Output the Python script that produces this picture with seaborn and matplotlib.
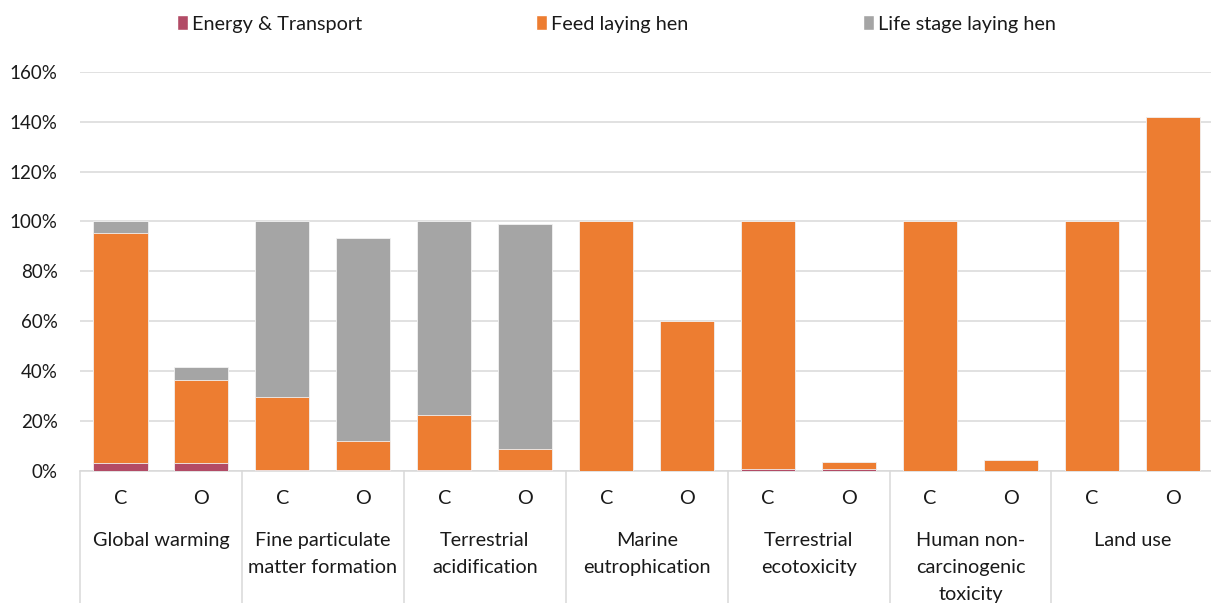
import numpy as np
import pandas as pd
import seaborn as sns
from matplotlib import pyplot as plt
from matplotlib.patches import Patch
from matplotlib.ticker import PercentFormatter
import matplotlib.transforms as mtransforms

# impact categories, each with a conventional (C) and organic (O) bar
groups = ["Global warming", "Fine particulate\nmatter formation", "Terrestrial\nacidification",
          "Marine\neutrophication", "Terrestrial\necotoxicity", "Human non-\ncarcinogenic\ntoxicity",
          "Land use"]
systems = ["C", "O"]

# shares in %, order: GW C, GW O, FPM C, FPM O, ...
energy = [3.0, 3.0, 0.3, 0.3, 0.2, 0.2, 0.0, 0.0, 0.8, 0.6, 0.0, 0.0, 0.0, 0.0]
feed = [92.4, 33.5, 29.4, 11.7, 22.1, 8.6, 100.0, 60.0, 99.2, 3.0, 100.0, 4.5, 100.0, 142.0]
life = [4.6, 5.2, 70.3, 81.4, 77.7, 90.2, 0.0, 0.0, 0.0, 0.0, 0.0, 0.0, 0.0, 0.0]

series_names = ["Energy & Transport", "Feed laying hen", "Life stage laying hen"]
colors = ["#B24B66", "#ED7D31", "#A5A5A5"]

keys = [f"{g}|{s}" for g in groups for s in systems]
df = pd.DataFrame({"key": keys,
                   "energy": np.array(energy) / 100,
                   "feed": np.array(feed) / 100,
                   "life": np.array(life) / 100})
df["lvl1"] = df["energy"]
df["lvl2"] = df["energy"] + df["feed"]
df["lvl3"] = df["lvl2"] + df["life"]

sns.set_style("white")
plt.rcParams["font.family"] = ["Lato", "DejaVu Sans"]
txt = "#1a1a1a"
fs = 14.3

fig = plt.figure(figsize=(12.11, 6.03), dpi=100)
ax = fig.add_axes([0.066, 0.219, 0.936, 0.662])

# stack by drawing cumulative totals from the top down
for col, c in zip(["lvl3", "lvl2", "lvl1"], colors[::-1]):
    sns.barplot(data=df, x="key", y=col, order=keys, color=c, width=0.67,
                saturation=1, edgecolor="#f2f2f2", linewidth=0.6, ax=ax, zorder=3)

ax.set_ylim(0, 1.6)
ax.set_xlim(-0.5, len(keys) - 0.5)
ax.set_yticks(np.arange(0, 1.61, 0.2))
ax.yaxis.set_major_formatter(PercentFormatter(1.0, decimals=0))
ax.grid(axis="y", color="#D9D9D9", linewidth=1.1, zorder=0)
ax.set_axisbelow(True)
ax.tick_params(axis="y", length=0, pad=16, labelsize=13.5, labelcolor=txt)
ax.set_xticks([])
ax.set_xlabel("")
ax.set_ylabel("")
for s in ["top", "right", "left"]:
    ax.spines[s].set_visible(False)
ax.spines["bottom"].set_color("#D9D9D9")
ax.spines["bottom"].set_linewidth(1.1)

# two-level category labels under the axis
trans = mtransforms.blended_transform_factory(ax.transData, fig.transFigure)
for i, k in enumerate(keys):
    ax.text(i, 1 - 499 / 603, k.split("|")[1], transform=trans, ha="center",
            va="center", fontsize=fs, color=txt)
for gi, g in enumerate(groups):
    ax.text(gi * 2 + 0.5, 1 - 532 / 603, g, transform=trans, ha="center", va="top",
            fontsize=fs, color=txt, linespacing=1.7)
for b in range(len(groups) + 1):
    ax.plot([b * 2 - 0.5] * 2, [1 - 471 / 603, 0], transform=trans, color="#D9D9D9",
            linewidth=1.1, clip_on=False)

handles = [Patch(facecolor=c, label=n) for n, c in zip(series_names, colors)]
fig.legend(handles=handles, loc="center", bbox_to_anchor=(0.509, 1 - 24 / 603), ncol=3,
           frameon=False, fontsize=fs, handlelength=0.55, handleheight=0.75,
           handletextpad=0.2, columnspacing=8.8, labelcolor=txt)

fig.savefig("out.png", dpi=100)
